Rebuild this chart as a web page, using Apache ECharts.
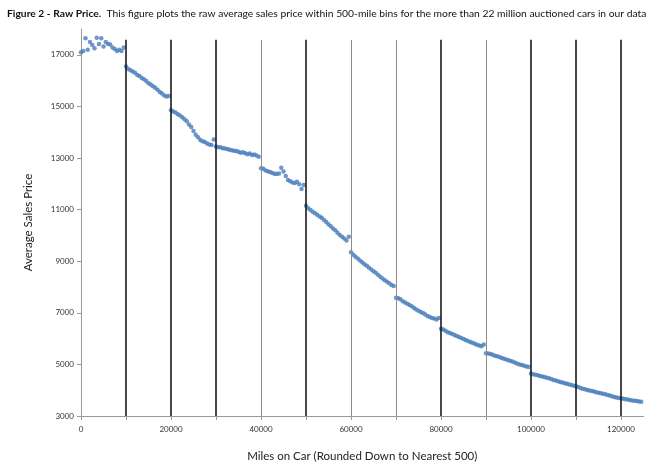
<!DOCTYPE html>
<html>
<head>
<meta charset="utf-8">
<script src="https://cdn.jsdelivr.net/npm/echarts@6/dist/echarts.min.js"></script>
<style>
    html, body {margin: 0; padding: 0; background: #fff;}
    #chart {width: 646px; height: 467px;}
</style>
</head>
<body>
<div id="chart"></div>
<script>
// 500 mile bins, prices, one array per 10000 miles
let binWidth = 500;
let price0 = [17100, 17150, 17640, 17200, 17500, 17380, 17250, 17660, 17420, 17640,
    17320, 17500, 17420, 17400, 17280, 17220, 17150, 17200, 17150, 17280];
let price10k = [16550, 16450, 16400, 16350, 16300, 16220, 16180, 16100, 16050, 15980,
    15900, 15850, 15780, 15720, 15650, 15560, 15500, 15420, 15380, 15400];
let price20k = [14850, 14800, 14760, 14700, 14650, 14580, 14500, 14420, 14300, 14200,
    14050, 13900, 13800, 13700, 13650, 13620, 13560, 13520, 13500, 13720];
let price30k = [13450, 13420, 13420, 13380, 13370, 13350, 13320, 13300, 13280, 13270,
    13240, 13200, 13220, 13180, 13150, 13170, 13120, 13140, 13100, 13050];
let price40k = [12600, 12580, 12520, 12490, 12460, 12420, 12390, 12380, 12400, 12620,
    12480, 12300, 12150, 12100, 12050, 12030, 12080, 11980, 11800, 11950];
let price50k = [11150, 11050, 10980, 10920, 10860, 10800, 10730, 10680, 10600, 10520,
    10430, 10350, 10270, 10200, 10100, 10020, 9950, 9880, 9800, 9950];
let price60k = [9350, 9250, 9170, 9100, 9030, 8960, 8880, 8820, 8750, 8680,
    8610, 8550, 8470, 8400, 8330, 8260, 8200, 8150, 8080, 8040];
let price70k = [7580, 7560, 7530, 7450, 7400, 7350, 7300, 7250, 7190, 7130,
    7080, 7030, 6990, 6930, 6880, 6840, 6800, 6780, 6740, 6800];
let price80k = [6380, 6350, 6300, 6250, 6220, 6180, 6140, 6100, 6060, 6020,
    5980, 5950, 5910, 5870, 5840, 5800, 5760, 5730, 5700, 5770];
let price90k = [5430, 5420, 5400, 5370, 5340, 5320, 5290, 5250, 5220, 5190,
    5160, 5130, 5100, 5060, 5030, 5000, 4980, 4950, 4920, 4900];
let price100k = [4650, 4620, 4600, 4580, 4550, 4530, 4510, 4480, 4460, 4430,
    4400, 4380, 4350, 4320, 4300, 4270, 4250, 4220, 4200, 4170];
let price110k = [4150, 4120, 4090, 4060, 4040, 4010, 3990, 3970, 3950, 3920,
    3900, 3880, 3860, 3840, 3810, 3790, 3770, 3740, 3720, 3700];
let price120k = [3690, 3670, 3650, 3640, 3620, 3600, 3590, 3580, 3560, 3550];

// vertical marker lines every 10000 miles (dark ones and light ones)
let darkLines = [10000, 20000, 30000, 50000, 80000, 100000, 110000, 120000];
let lightLines = [40000, 60000, 70000, 90000];
let xTicks = [0, 20000, 40000, 60000, 80000, 100000, 120000];

let prices = [].concat(price0, price10k, price20k, price30k, price40k, price50k,
    price60k, price70k, price80k, price90k, price100k, price110k, price120k);
let points = prices.map((p, i) => [i * binWidth, p]);

let font = 'Lato';
let lineTop = 17580;

function vLines(list, color, width) {
    return list.map(x => [
        {coord: [x, 3000], lineStyle: {color: color, width: width, type: 'solid'}},
        {coord: [x, lineTop]}
    ]);
}

let myChart = echarts.init(document.getElementById('chart'), null, {renderer: 'canvas'});
myChart.setOption({
    backgroundColor: '#fff',
    animation: false,
    title: {
        left: 2,
        top: 4,
        text: '{b|Figure 2 - Raw Price.}  This figure plots the raw average sales price within 500-mile bins for the more than 22 million auctioned cars in our datas',
        textStyle: {
            fontFamily: font,
            fontSize: 10.3,
            fontWeight: 'normal',
            color: '#111',
            rich: {
                b: {fontFamily: font, fontSize: 10.3, fontWeight: 'bold', color: '#111'}
            }
        }
    },
    grid: {left: 81, right: 2.5, top: 29, bottom: 49, containLabel: false},
    xAxis: {
        type: 'value',
        min: 0,
        max: 125000,
        interval: 10000,
        name: 'Miles on Car (Rounded Down to Nearest 500)',
        nameLocation: 'middle',
        nameGap: 34,
        nameTextStyle: {fontFamily: font, fontSize: 11.5, color: '#222'},
        axisLine: {lineStyle: {color: '#999'}},
        axisTick: {length: 4, lineStyle: {color: '#999'}},
        axisLabel: {
            fontFamily: font, fontSize: 8, color: '#333', margin: 9,
            showMaxLabel: false,
            formatter: v => xTicks.indexOf(v) >= 0 ? String(v) : ''
        },
        splitLine: {show: false}
    },
    yAxis: {
        type: 'value',
        min: 3000,
        max: 18000,
        interval: 2000,
        name: 'Average Sales Price',
        nameLocation: 'middle',
        nameGap: 47,
        nameTextStyle: {fontFamily: font, fontSize: 11.5, color: '#222'},
        axisLine: {show: true, lineStyle: {color: '#999'}},
        axisTick: {show: true, length: 4, lineStyle: {color: '#999'}},
        axisLabel: {
            fontFamily: font, fontSize: 8, color: '#333', margin: 7,
            showMaxLabel: false,
            formatter: v => (v === 18000 ? '' : String(v))
        },
        splitLine: {show: false}
    },
    series: [
        {
            type: 'scatter',
            data: points,
            symbol: 'circle',
            symbolSize: 4.5,
            itemStyle: {color: '#4a7ebb'},
            z: 3,
            markLine: {
                silent: true,
                symbol: 'none',
                label: {show: false},
                lineStyle: {type: 'solid'},
                data: vLines(darkLines, '#1a1a1a', 1.6).concat(vLines(lightLines, '#8c8c8c', 1))
            }
        }
    ]
});
</script>
</body>
</html>
